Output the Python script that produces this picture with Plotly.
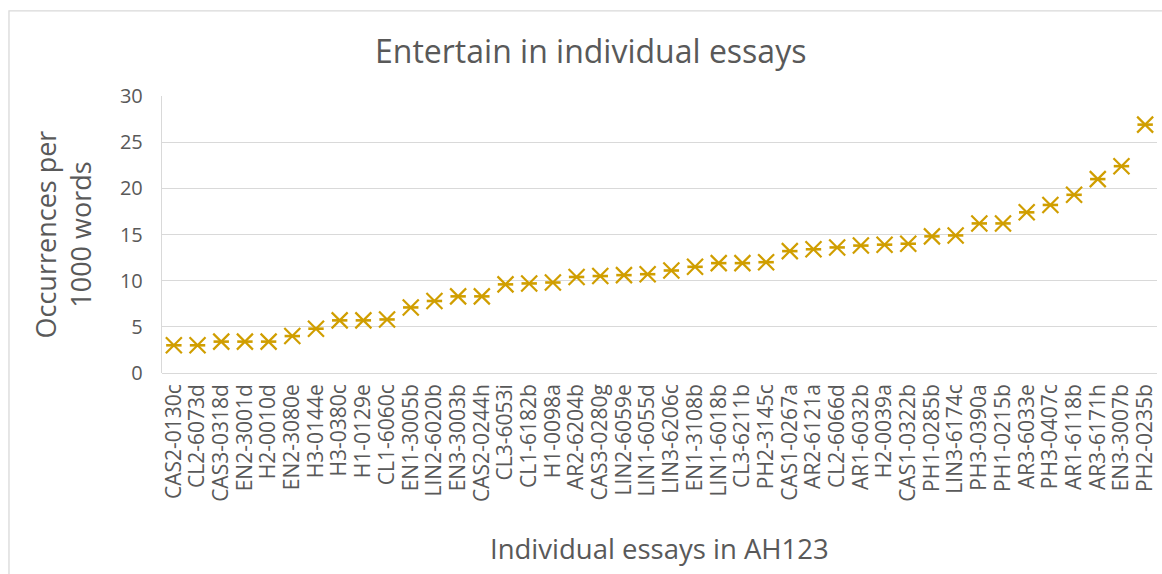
import plotly.graph_objects as go

# Essay identifiers, ordered by rate
essays = [
    "CAS2-0130c", "CL2-6073d", "CAS3-0318d", "EN2-3001d", "H2-0010d",
    "EN2-3080e", "H3-0144e", "H3-0380c", "H1-0129e", "CL1-6060c",
    "EN1-3005b", "LIN2-6020b", "EN3-3003b", "CAS2-0244h", "CL3-6053i",
    "CL1-6182b", "H1-0098a", "AR2-6204b", "CAS3-0280g", "LIN2-6059e",
    "LIN1-6055d", "LIN3-6206c", "EN1-3108b", "LIN1-6018b", "CL3-6211b",
    "PH2-3145c", "CAS1-0267a", "AR2-6121a", "CL2-6066d", "AR1-6032b",
    "H2-0039a", "CAS1-0322b", "PH1-0285b", "LIN3-6174c", "PH3-0390a",
    "PH1-0215b", "AR3-6033e", "PH3-0407c", "AR1-6118b", "AR3-6171h",
    "EN3-3007b", "PH2-0235b",
]

# Entertain occurrences per 1000 words
rates = [
    3.0, 3.0, 3.4, 3.4, 3.4,
    4.0, 4.8, 5.7, 5.7, 5.8,
    7.1, 7.8, 8.3, 8.3, 9.6,
    9.7, 9.8, 10.4, 10.5, 10.6,
    10.7, 11.1, 11.5, 11.9, 11.9,
    12.0, 13.2, 13.4, 13.6, 13.8,
    13.9, 14.0, 14.8, 14.9, 16.2,
    16.2, 17.4, 18.2, 19.3, 21.0,
    22.4, 26.9,
]

y_ticks = [0, 5, 10, 15, 20, 25, 30]

FONT = "Open Sans"
TEXT = "#595959"
GRID = "#d9d9d9"
GOLD = "#D09E00"

fig = go.Figure()

# Cross part of the marker
fig.add_trace(go.Scatter(
    x=essays, y=rates, mode="markers",
    marker=dict(symbol="x-thin-open", size=16, color=GOLD,
                line=dict(color=GOLD, width=2.2)),
    hoverinfo="x+y", showlegend=False,
))
# Horizontal bar through the centre of each marker
fig.add_trace(go.Scatter(
    x=essays, y=rates, mode="markers",
    marker=dict(symbol="line-ew-open", size=11, color=GOLD,
                line=dict(color=GOLD, width=2.6)),
    hoverinfo="skip", showlegend=False,
))

fig.update_layout(
    width=1162, height=574,
    margin=dict(l=162, r=5, t=96, b=201),
    paper_bgcolor="white", plot_bgcolor="white",
    font=dict(family=FONT, color=TEXT),
    xaxis=dict(
        type="category",
        range=[-0.5, len(essays) - 0.5],
        tickmode="array", tickvals=essays, ticktext=essays,
        tickangle=-90,
        tickfont=dict(family=FONT, size=21, color=TEXT),
        showgrid=False, zeroline=False, showline=False,
        ticks="", ticklabelstandoff=6,
        fixedrange=True,
    ),
    yaxis=dict(
        range=[0, 30],
        tickvals=y_ticks,
        tickfont=dict(family=FONT, size=20, color=TEXT),
        showgrid=True, gridcolor=GRID, gridwidth=1.4,
        zeroline=True, zerolinecolor=GRID, zerolinewidth=1.4,
        showline=True, linecolor=GRID, linewidth=1.4,
        ticks="", ticklabelstandoff=14,
        fixedrange=True,
    ),
    annotations=[
        dict(text="Entertain in individual essays", xref="paper", yref="paper",
             x=0.431, y=1.166, xanchor="center", yanchor="middle",
             showarrow=False, font=dict(family=FONT, size=32, color=TEXT)),
        dict(text="Individual essays in AH123", xref="paper", yref="paper",
             x=0.4995, y=-0.635, xanchor="center", yanchor="middle",
             showarrow=False, font=dict(family=FONT, size=27.5, color=TEXT)),
        dict(text="Occurrences per<br>1000 words", xref="paper", yref="paper",
             x=-0.1005, y=0.5, xanchor="center", yanchor="middle",
             textangle=-90, showarrow=False,
             font=dict(family=FONT, size=27, color=TEXT)),
    ],
    shapes=[
        dict(type="rect", xref="paper", yref="paper",
             x0=-0.1538, y0=-0.9, x1=1.2, y1=1.307,
             line=dict(color=GRID, width=1.3), layer="below"),
    ],
)

fig.write_html("out.html")
